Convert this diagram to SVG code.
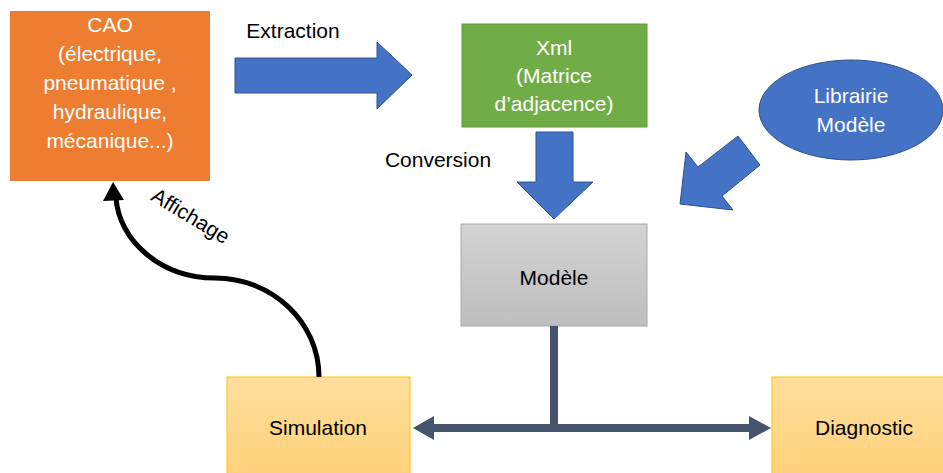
<svg xmlns="http://www.w3.org/2000/svg" width="943" height="473" viewBox="0 0 943 473">
<defs>
<linearGradient id="gGray" x1="0" y1="0" x2="0" y2="1"><stop offset="0" stop-color="#D3D3D3"/><stop offset="1" stop-color="#BEBEBE"/></linearGradient>
<linearGradient id="gGold" x1="0" y1="0" x2="0" y2="1"><stop offset="0" stop-color="#FFDE9C"/><stop offset="1" stop-color="#FFD27A"/></linearGradient>
</defs>
<style>
text{font-family:"Liberation Sans",Arial,sans-serif;font-size:21px;text-anchor:middle}
.w{fill:#FFFFFF}
.k{fill:#000000}
.blue{fill:#4472C4;stroke:#2F528F;stroke-width:1}
.conn{stroke:#44546A;stroke-width:8;fill:none}
</style>
<rect width="943" height="473" fill="#FFFFFF"/>
<g id="cao">
<rect x="10" y="11" width="200" height="170" fill="#ED7D31"/>
<text class="w" x="110" y="32">CAO</text>
<text class="w" x="110" y="61">(électrique,</text>
<text class="w" x="110" y="90">pneumatique ,</text>
<text class="w" x="110" y="119">hydraulique,</text>
<text class="w" x="110" y="148">mécanique...)</text>
</g>
<g id="xml">
<rect x="462" y="24" width="185" height="103" fill="#70AD47" stroke="#5B9A3A" stroke-width="1"/>
<text class="w" x="554" y="55">Xml</text>
<text class="w" x="554" y="83">(Matrice</text>
<text class="w" x="554" y="111">d’adjacence)</text>
</g>
<g id="librairie">
<ellipse cx="851" cy="110" rx="92" ry="50" class="blue"/>
<text class="w" x="851" y="103">Librairie</text>
<text class="w" x="851" y="132">Modèle</text>
</g>
<g id="modele">
<rect x="461" y="224" width="186" height="102" fill="url(#gGray)" stroke="#ABABAB" stroke-width="1"/>
<text class="k" x="554" y="285">Modèle</text>
</g>
<g id="simulation">
<rect x="227" y="377" width="183" height="102" fill="url(#gGold)" stroke="#FFC000" stroke-width="1"/>
<text class="k" x="318" y="435">Simulation</text>
</g>
<g id="diagnostic">
<rect x="772" y="377" width="185" height="102" fill="url(#gGold)" stroke="#FFC000" stroke-width="1"/>
<text class="k" x="864" y="435">Diagnostic</text>
</g>
<g id="connectors">
<polygon class="blue" points="235,58 377,58 377,42 412,75 377,109 377,93 235,93"/>
<text class="k" x="293" y="38">Extraction</text>
<polygon class="blue" points="536,132 573,132 573,182 593,182 554,219 517,182 536,182"/>
<text class="k" x="438" y="167">Conversion</text>
<polygon class="blue" points="738,136 760,165 722,196 733,210 680,204 686,152 698,167"/>
<path d="M 319 377 C 319 322 272 278 215 278 C 160 278 119 240 116 198" fill="none" stroke="#000000" stroke-width="5"/>
<polygon points="113,182 103,201 124,200" fill="#000000"/>
<text class="k" transform="translate(187,222) rotate(31)">Affichage</text>
<line class="conn" x1="554" y1="326" x2="554" y2="428"/>
<line class="conn" x1="430" y1="428" x2="752" y2="428"/>
<polygon points="413,428 434,416 434,440" fill="#44546A"/>
<polygon points="771,428 749,416 749,440" fill="#44546A"/>
</g>
</svg>
